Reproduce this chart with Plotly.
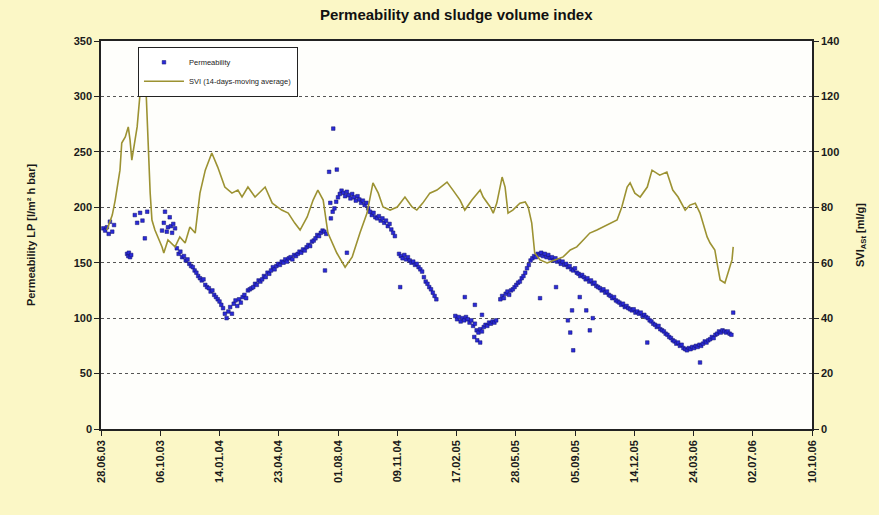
import pandas as pd
import plotly.graph_objects as go

START = pd.Timestamp("2003-06-28")

# SVI, 14-day moving average: day offset from start, value in ml/g
svi_day = [10, 19, 24, 29, 32, 35, 41, 46, 49, 52, 56, 61, 66, 71, 76, 79, 83, 86, 91,
           103, 106, 113, 125, 133, 142, 150, 159, 167, 176, 187, 197, 209, 221, 231, 238,
           248, 260, 277, 289, 305, 316, 327, 336, 348, 358, 366, 375, 383, 398, 412, 424,
           437, 449, 459, 468, 476, 488, 500, 513, 525, 533, 543, 555, 567, 584, 594, 606,
           614, 626, 640, 645, 657, 662, 668, 677, 682, 687, 695, 707, 716, 721, 727, 732,
           741, 753, 766, 780, 792, 803, 814, 825, 837, 847, 859, 871, 879, 888, 893, 901,
           910, 922, 930, 938, 943, 955, 960, 965, 974, 986, 994, 1003, 1011, 1016, 1023,
           1028, 1036, 1041, 1045, 1053, 1058, 1065, 1067]
svi_val = [71.8, 77.2, 82.6, 89.8, 93.4, 103.2, 105.4, 109.0, 104.3, 97.0, 101.7, 109.0,
           121.2, 124.1, 122.3, 103.2, 85.1, 75.4, 71.8,
           65.7, 63.5, 68.2, 65.7, 69.3, 67.1, 72.9, 70.7, 85.1, 93.4, 99.6, 94.5, 87.3,
           85.1, 86.2, 83.7, 87.3, 83.7, 87.3, 81.5, 79.0, 77.9, 74.3, 71.8, 76.5, 82.6,
           86.2, 82.6, 70.7, 63.5, 58.4, 62.1, 70.7, 77.9, 88.8, 85.1, 80.1, 79.0, 80.1,
           83.7, 80.1, 79.0, 81.5, 85.1, 86.2, 89.1, 86.2, 82.6, 79.0, 82.6, 86.2, 83.7,
           80.1, 77.9, 81.5, 90.9, 87.3, 77.9, 79.0, 81.5, 81.9, 80.1, 74.3, 63.5, 61.0,
           59.9, 61.0, 62.1, 64.6, 65.7, 68.2, 70.7, 71.8, 72.9, 74.3, 75.4, 80.1, 87.3,
           88.8, 85.1, 83.7, 87.3, 93.4, 92.4, 91.6, 92.7, 89.8, 86.2, 83.7, 79.0, 80.8,
           81.5, 77.9, 74.3, 69.3, 67.1, 64.6, 58.4, 53.8, 52.7, 56.3, 61.0, 65.7]

# Permeability, sparse early readings: day offset, value in l/(m² h bar)
perm_early_day = [4, 7, 10, 13, 15, 19, 22, 44, 46, 47, 49, 51, 57, 61, 66, 70, 74, 78,
                  103, 106, 108, 111, 113, 116, 118, 120, 122, 125]
perm_early_val = [181, 179, 182, 176, 187, 178, 184, 158, 156, 159, 155, 157, 193, 186,
                  195, 188, 172, 196, 179, 186, 196, 178, 182, 191, 183, 177, 185, 181]

# Permeability, continuous runs sampled every 3 days: (first day offset, values)
perm_run_1 = (128, [163, 158, 160, 155, 156, 152, 153, 149, 147, 146, 143, 141, 138, 136,
                    134, 135, 130, 128, 127, 124, 125, 121, 119, 117, 115, 112, 109, 104,
                    100, 106, 110, 104, 113, 116, 111, 117, 114, 119, 121, 118, 125, 126,
                    127, 128, 131, 130, 134, 133, 135, 138, 137, 141, 140, 143, 146, 144,
                    147, 149, 148, 151, 150, 153, 151, 154, 155, 153, 157, 156, 158, 160,
                    159, 162, 161, 164, 166, 165, 169, 170, 172, 175, 174, 177, 179, 178,
                    176])
perm_run_2 = (388, [190, 196, 199, 205, 209, 212, 215, 213, 210, 214, 211, 208, 212, 209,
                    206, 210, 207, 204, 206, 202, 204, 199, 196, 193, 195, 191, 190, 192,
                    188, 190, 186, 188, 183, 185, 180, 177, 174])
perm_run_3 = (503, [158, 156, 154, 157, 153, 155, 152, 150, 151, 148, 149, 146, 144, 142,
                    137, 133, 131, 128, 126, 123, 120, 117])
perm_run_4 = (598, [102, 99, 101, 97, 100, 98, 101, 99, 96, 98, 93, 95, 89, 87, 90, 88,
                    92, 94, 93, 96, 95, 97, 96, 98])
perm_run_5 = (674, [117, 120, 118, 122, 124, 121, 125, 126, 128, 130, 132, 133, 136, 138,
                    141, 145, 148, 152, 154, 156, 155, 158, 157, 159, 156, 158, 155, 157,
                    154, 155, 152, 154, 151, 152, 149, 151, 148, 149, 146, 147, 144, 143,
                    145, 141, 140, 138, 139, 137, 135, 136, 133, 134, 131, 132, 129, 128,
                    127, 125, 126, 123, 124, 121, 120, 118, 119, 116, 115, 114, 112, 113,
                    110, 111, 109, 108, 107, 108, 105, 106, 104, 105, 102, 103, 101, 100,
                    98, 97, 95, 94, 92, 93, 90, 89, 88, 86, 85, 83, 82, 80, 79, 77, 78,
                    75, 76, 73, 72, 71, 73, 72, 74, 73, 75, 74, 76, 75, 77, 79, 78, 80,
                    81, 83, 82, 85, 86, 88, 87, 89, 88, 87, 88, 86, 85])

# Permeability, isolated readings off the main trend
perm_odd_day = [385, 392, 398, 387, 378, 415, 505, 614, 631, 643, 630, 635, 640, 741, 768,
                788, 792, 795, 797, 808, 819, 825, 830, 922, 1011, 1067]
perm_odd_val = [232, 271, 234, 204, 143, 159, 128, 119, 112, 103, 83, 80, 78, 118, 128,
                98, 87, 107, 71, 119, 107, 89, 100, 78, 60, 105]

x_tick_start = "2003-06-28"
x_end = "2006-10-10"

perm_day = list(perm_early_day)
perm_val = list(perm_early_val)
for first, vals in (perm_run_1, perm_run_2, perm_run_3, perm_run_4, perm_run_5):
    perm_day += [first + 3 * i for i in range(len(vals))]
    perm_val += vals
perm_day += perm_odd_day
perm_val += perm_odd_val

perm_dates = [START + pd.Timedelta(days=d) for d in perm_day]
svi_dates = [START + pd.Timedelta(days=d) for d in svi_day]

fig = go.Figure()
fig.add_trace(go.Scatter(
    x=perm_dates, y=perm_val, mode="markers", name="Permeability",
    marker=dict(symbol="square", size=3.6, color="#2a2ad8",
                line=dict(width=0.5, color="#14146a")),
    yaxis="y"))
fig.add_trace(go.Scatter(
    x=svi_dates, y=svi_val, mode="lines", name="SVI (14-days-moving average)",
    line=dict(color="#9c9232", width=1.6),
    yaxis="y2"))

tick_font = dict(family="Liberation Sans, Arial", size=11, color="#1a1a1a", weight="bold")
x_tick_font = dict(family="Liberation Sans, Arial", size=11, color="#1a1a1a", weight="bold")
grid = dict(showgrid=True, gridcolor="#555555", griddash="dot", gridwidth=1)

fig.update_layout(
    width=879, height=515,
    margin=dict(l=101, r=67, t=41, b=86),
    paper_bgcolor="#fbf7c6",
    plot_bgcolor="#fefefb",
    title=dict(text="<b>Permeability and sludge volume index</b>",
               x=0.519, xanchor="center", y=0.972, yanchor="middle",
               font=dict(family="Liberation Sans, Arial", size=15, color="#111111")),
    showlegend=True,
    legend=dict(x=0.052, y=0.985, xanchor="left", yanchor="top",
                bgcolor="#ffffff", bordercolor="#222222", borderwidth=1,
                font=dict(family="Liberation Sans, Arial", size=7.5, color="#222222"),
                tracegroupgap=0, itemwidth=40),
    xaxis=dict(
        type="date", range=[x_tick_start, x_end],
        tick0=x_tick_start, dtick=100 * 86400000, tickformat="%d.%m.%y",
        tickangle=-90, tickfont=x_tick_font,
        ticks="outside", ticklen=5, tickcolor="#222222",
        showline=True, linecolor="#222222", linewidth=1.5, mirror=True,
        showgrid=False, zeroline=False),
    yaxis=dict(
        range=[0, 350], dtick=50, tickfont=tick_font,
        ticks="outside", ticklen=5, tickcolor="#222222",
        showline=True, linecolor="#222222", linewidth=1.5,
        zeroline=False, **grid,
        title=dict(text="<b>Permeability LP [l/m² h bar]</b>", standoff=36,
                   font=dict(family="Liberation Sans, Arial", size=11, color="#1a1a1a"))),
    yaxis2=dict(
        range=[0, 140], dtick=20, overlaying="y", side="right", tickfont=tick_font,
        ticks="outside", ticklen=5, tickcolor="#222222",
        showline=True, linecolor="#222222", linewidth=1.5,
        showgrid=False, zeroline=False,
        title=dict(text="<b>SVI<sub>ASt</sub> [ml/g]</b>", standoff=18,
                   font=dict(family="Liberation Sans, Arial", size=11, color="#1a1a1a"))),
)

fig.write_html("out.html")
